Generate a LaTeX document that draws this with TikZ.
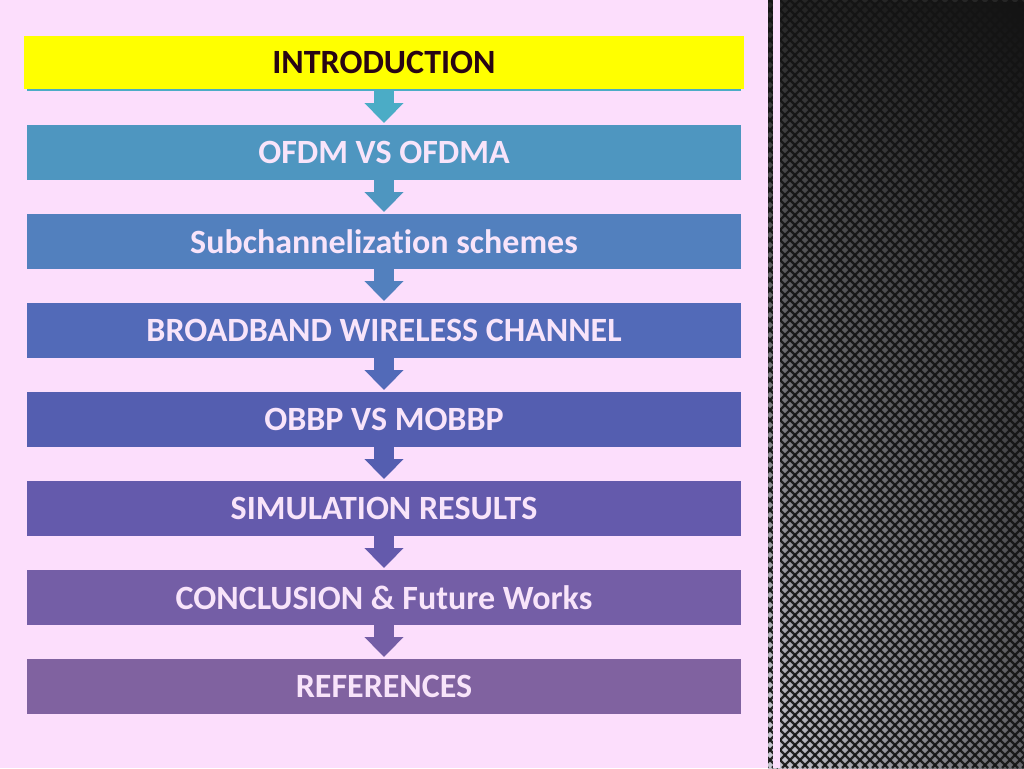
\documentclass[tikz,border=0pt]{standalone}
\usepackage{fontspec}
\setmainfont{Carlito}[Ligatures=NoCommon]
\usetikzlibrary{arrows.meta,fadings}
\definecolor{slidebg}{RGB}{252,222,252}
\definecolor{introfill}{RGB}{255,255,0}
\definecolor{introtext}{RGB}{40,5,20}
\definecolor{introline}{RGB}{75,172,198}
\definecolor{boxtext}{RGB}{248,228,250}
\definecolor{stage1}{RGB}{78,150,192}
\definecolor{stage2}{RGB}{82,128,190}
\definecolor{stage3}{RGB}{82,106,184}
\definecolor{stage4}{RGB}{84,94,176}
\definecolor{stage5}{RGB}{100,90,172}
\definecolor{stage6}{RGB}{116,94,166}
\definecolor{stage7}{RGB}{128,98,160}
\definecolor{texdark}{RGB}{38,38,38}
\definecolor{texmid}{RGB}{78,78,82}
\definecolor{texlight}{RGB}{200,200,210}
\begin{document}
\begin{tikzpicture}[x=1pt,y=-1pt,
    stage/.style={minimum width=714pt,minimum height=55pt,inner sep=0pt,anchor=north,
      text=boxtext,font=\fontsize{34}{40}\selectfont\bfseries},
    flow/.style={line width=20pt,-{Triangle[width=38pt,length=20pt]},shorten >=2pt},
    texline/.style={line width=2.3pt,color=black!92,opacity=0.9}]
  \useasboundingbox (0,0) rectangle (1024,768);
  \fill[slidebg] (0,0) rectangle (1024,768);
  \begin{scope}
    \clip (768,0) rectangle (1024,768);
    \shade[top color=texdark,middle color=texmid,bottom color=texlight] (768,0) rectangle (1024,768);
    \fill[black,opacity=0.5,path fading=west] (768,0) rectangle (1024,768);
    \foreach \c in {770,780,...,1790}
      \draw[texline] (\c,0) -- ++(-768,768);
    \foreach \c in {0,10,...,1020}
      \draw[texline] (\c,0) -- ++(768,768);
  \end{scope}
  \fill[slidebg] (773,0) rectangle (780,768);
  \fill[introline] (27,86) rectangle (741,91);
  \node[stage,minimum width=720pt,minimum height=53pt,fill=introfill,text=introtext] (intro) at (384,36) {INTRODUCTION};
  \foreach \i/\lbl in {1/{OFDM VS OFDMA},2/{Subchannelization schemes},3/{BROADBAND WIRELESS CHANNEL},
      4/{OBBP VS MOBBP},5/{SIMULATION RESULTS},6/{CONCLUSION \& Future Works},7/{REFERENCES}}
    \node[stage,fill=stage\i] (s\i) at (384,{125+89*(\i-1)}) {\lbl};
  \draw[flow,introline] (intro.south) -- (s1.north);
  \foreach \i [count=\j from 2] in {1,...,6}
    \draw[flow,stage\i] (s\i.south) -- (s\j.north);
\end{tikzpicture}
\end{document}
